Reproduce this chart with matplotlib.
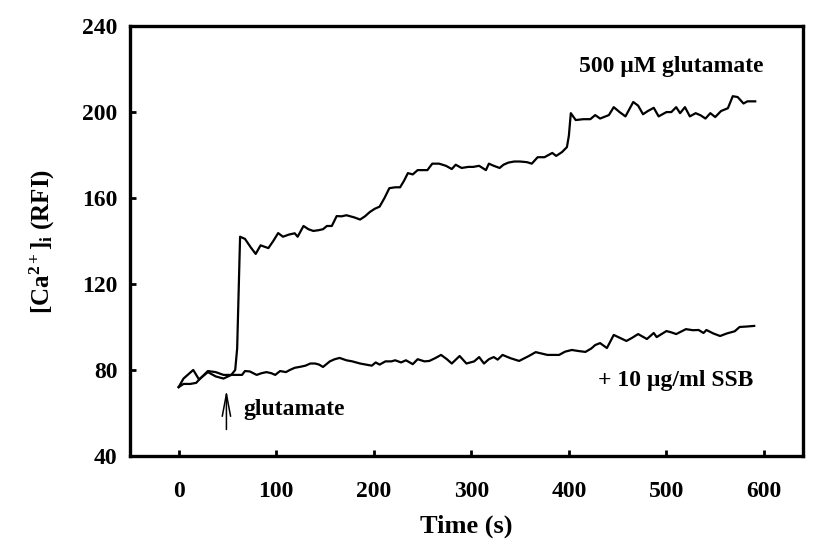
import matplotlib
matplotlib.use("Agg")
import matplotlib.pyplot as plt

# values
glu_t = [0, 5, 12, 18, 22, 30, 38, 46, 54, 58, 60, 63, 68, 74, 79, 84, 92, 97,
         102, 107, 113, 119, 122, 128, 133, 138, 143, 148, 152, 157, 162, 167,
         172, 180, 186, 191, 196, 201, 206, 211, 216, 222, 227, 231, 235, 240,
         245, 250, 255, 260, 267, 274, 280, 284, 290, 297, 302, 308, 315, 318,
         323, 329, 333, 338, 344, 350, 357, 362, 368, 375, 383, 387, 393, 398,
         400, 402, 407, 415, 422, 427, 432, 441, 446, 452, 458, 466, 471, 476,
         481, 487, 492, 500, 505, 510, 514, 519, 524, 530, 535, 540, 545, 550,
         556, 563, 568, 573, 579, 583, 591]
glu_y = [72, 73.5, 73.5, 74, 76, 79, 77, 76, 77.7, 80, 90, 142, 141, 137, 134,
         138, 136.7, 140, 143.7, 142, 143, 143.6, 142, 147, 145.5, 144.7, 145,
         145.5, 147, 147, 151.6, 151.5, 152, 151, 150, 151.5, 153.5, 155, 156,
         160, 164.6, 165, 165, 168, 171.6, 171, 173, 173, 173, 176, 176, 175,
         173.5, 175.5, 174, 174.5, 174.5, 175, 173, 176, 175, 174, 175.5, 176.5,
         177, 177, 176.7, 176, 179, 179, 181, 179.6, 181.4, 183.7, 189, 199.5,
         196.3, 196.7, 196.7, 198.6, 197, 198.6, 202.3, 200, 198, 204.7, 203,
         199, 200.5, 202, 198, 200, 200, 202.3, 199.5, 202.3, 198, 199.5, 198.5,
         197, 199.5, 197.7, 200.5, 201.8, 207.4, 207, 204, 205, 205]

ssb_t = [0, 5, 10, 15, 21, 30, 38, 46, 55, 65, 68, 73, 80, 85, 90, 95, 99, 104,
         110, 114, 119, 125, 130, 135, 140, 144, 148, 155, 160, 165, 172, 178,
         186, 192, 198, 202, 206, 212, 218, 222, 228, 233, 240, 245, 252, 257,
         263, 269, 275, 280, 288, 295, 303, 308, 313, 318, 323, 327, 332, 340,
         349, 359, 366, 378, 390, 396, 403, 410, 417, 423, 427, 432, 439, 446,
         452, 459, 465, 471, 480, 487, 490, 500, 505, 510, 520, 527, 533, 538,
         541, 548, 555, 562, 570, 575, 582, 590]
ssb_y = [72, 76, 78, 80, 75.5, 79.5, 79, 77.7, 77.7, 77.7, 79.5, 79.3, 77.7,
         78.5, 79, 78.5, 77.7, 79.5, 79, 80, 81, 81.5, 82, 83, 83, 82.5, 81.4,
         84, 85, 85.6, 84.5, 84, 83, 82.5, 82, 83.5, 82.5, 84, 84, 84.5, 83.5,
         84.5, 82.7, 85, 84, 84.2, 85.5, 87, 85, 83, 86.5, 83, 84, 86, 83, 85,
         86, 84.8, 87, 85.5, 84.2, 86.5, 88.3, 87, 87, 88.5, 89.3, 88.8, 88.4,
         90, 91.6, 92.5, 90.2, 96.3, 95, 93.5, 95, 96.7, 94.4, 97.2, 95.3, 98.1,
         97.5, 96.7, 99, 98.5, 98.6, 97.2, 98.6, 97, 95.8, 97, 98, 100, 100.2,
         100.5]

xticks = [0, 100, 200, 300, 400, 500, 600]
yticks = [40, 80, 120, 160, 200, 240]

plt.rcParams["font.family"] = ["Liberation Serif", "DejaVu Serif"]
plt.rcParams["font.weight"] = "bold"
plt.rcParams["mathtext.fontset"] = "custom"
plt.rcParams["mathtext.rm"] = "Liberation Serif:bold"
plt.rcParams["mathtext.it"] = "Liberation Serif:bold"
plt.rcParams["mathtext.bf"] = "Liberation Serif:bold"

fig = plt.figure(figsize=(8.27, 5.56), dpi=100)
ax = fig.add_axes([0.157, 0.180, 0.814, 0.773])

ax.plot(glu_t, glu_y, color="black", lw=1.6)
ax.plot(ssb_t, ssb_y, color="black", lw=1.6)

ax.set_xlim(-50, 640)
ax.set_ylim(40, 240)
ax.set_xticks(xticks)
ax.set_yticks(yticks)
ax.tick_params(direction="in", length=4, width=2, labelsize=17)
ax.tick_params(axis="x", pad=18)
ax.tick_params(axis="y", pad=9)
for lab in ax.get_xticklabels() + ax.get_yticklabels():
    lab.set_fontweight("bold")
for s in ax.spines.values():
    s.set_linewidth(2.4)

ax.set_xlabel("Time (s)", fontsize=19, fontweight="bold", labelpad=9)
ax.set_ylabel(r"[Ca$^{2+}$]$_{\rm i}$ (RFI)", fontsize=18, fontweight="bold",
              labelpad=18)

ax.text(600, 221, "500 \u00b5M glutamate", ha="right", va="center",
        fontsize=17, fontweight="bold")
ax.text(589, 75, "+ 10 \u00b5g/ml SSB", ha="right", va="center",
        fontsize=17, fontweight="bold")

# stimulus arrow
ax.annotate("", xy=(49, 72), xytext=(49, 51),
            arrowprops=dict(arrowstyle="->,head_length=1.6,head_width=0.3",
                            color="black", lw=1.1))
ax.text(66, 61.5, "glutamate", ha="left", va="center", fontsize=17,
        fontweight="bold")

plt.savefig("out.png", dpi=100)
